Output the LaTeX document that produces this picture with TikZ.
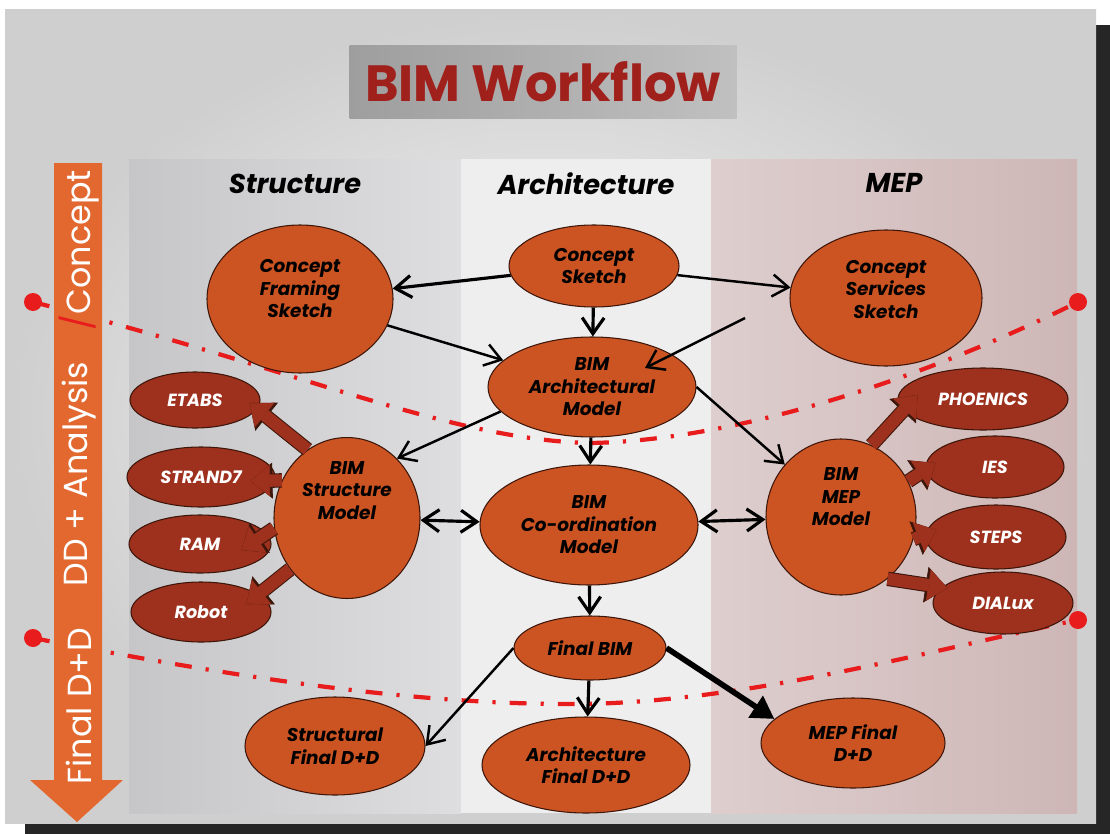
\documentclass[tikz,border=0pt]{standalone}
\usepackage{fontspec}
\setmainfont{Poppins}
\usetikzlibrary{arrows.meta,calc,positioning,shapes.geometric}

\definecolor{stagefill}{RGB}{204,84,34}
\definecolor{toolfill}{RGB}{158,48,30}
\definecolor{rim}{RGB}{60,22,10}
\definecolor{phasered}{RGB}{232,28,28}
\definecolor{bandorange}{RGB}{226,104,48}
\definecolor{titlered}{RGB}{160,32,28}
\definecolor{titlegrayL}{RGB}{158,158,158}
\definecolor{titlegrayR}{RGB}{192,192,192}
\definecolor{structL}{RGB}{198,198,200}
\definecolor{structR}{RGB}{222,222,224}
\definecolor{archcol}{RGB}{238,238,238}
\definecolor{mepL}{RGB}{222,206,206}
\definecolor{mepR}{RGB}{206,182,182}

\tikzset{
  stage/.style={ellipse, draw=rim, line width=0.6pt, fill=stagefill, inner sep=0pt, align=center,
    font=\fontsize{10.5}{12.8}\selectfont\bfseries\itshape},
  tool/.style={ellipse, draw=rim, line width=0.6pt, fill=toolfill, inner sep=0pt, text=white,
    font=\fontsize{10}{12}\selectfont\bfseries\itshape},
  flow/.style={line width=1.4pt, -{Straight Barb[length=3.2mm,width=4.4mm]}},
  twoway/.style={line width=1.8pt, {Straight Barb[length=3.2mm,width=4.4mm]}-{Straight Barb[length=3.2mm,width=4.4mm]}},
  fatarrow/.style={draw=toolfill, line width=7pt, -{Triangle[length=11pt,width=18pt,line width=0.4pt]},
    preaction={draw=rim, line width=8.2pt, -{Triangle[length=12.5pt,width=20.5pt,line width=0.4pt]}}},
  column/.style={font=\fontsize{15.5}{18}\selectfont\bfseries\itshape},
  phaseline/.style={draw=phasered, line width=2.4pt, dash pattern=on 9.6pt off 8pt on 1.8pt off 8pt},
  phasedot/.style={circle, fill=phasered, inner sep=0pt, minimum size=3.6mm},
  phasename/.style={rotate=90, text=white, font=\fontsize{19}{22}\selectfont}
}

\begin{document}
\begin{tikzpicture}[x=0.2mm,y=-0.2mm]
\useasboundingbox (0,0) rectangle (1110,834);
% slide with its shadow
\fill[black!85] (25,25) rectangle (1110,834);
\shade[inner color=gray!6, outer color=gray!38] (5,10) rectangle (1096,823);
% three columns
\shade[left color=structL, right color=structR] (129,159) rectangle (461,813);
\fill[archcol] (461,159) rectangle (711,813);
\shade[left color=mepL, right color=mepR] (711,159) rectangle (1077,813);

\node[minimum width=77.4mm, minimum height=14.6mm, left color=titlegrayL, right color=titlegrayR,
  text=titlered, font=\fontsize{29}{34}\selectfont\bfseries] (title) at (543,82) {BIM Workflow};

\node[column] (structhead) at (295,184) {Structure};
\node[column] (archhead) at (586,184) {Architecture};
\node[column] (mephead) at (894,183) {MEP};

% phase limits
\node[phasedot] (dotul) at (33,302) {};
\node[phasedot] (dotll) at (33,638) {};
\node[phasedot] (dotur) at (1078,302) {};
\node[phasedot] (dotlr) at (1078,620) {};
\draw[phaseline] (dotul.center) .. controls (300,370) and (450,440) .. (590,443)
  .. controls (720,441) and (900,390) .. (dotur.center);
\draw[phaseline] (dotll.center) .. controls (250,680) and (420,705) .. (580,704)
  .. controls (750,702) and (930,650) .. (dotlr.center);

% time arrow
\fill[bandorange] (54,163) -- (102,163) -- (102,780) -- (123,780) -- (77,822) -- (30,780) -- (54,780) -- cycle;
\node[phasename] (conceptphase) at (79,250) {\textcolor{phasered}{/}Concept};
\node[phasename] (ddphase) at (79,474) {DD + Analysis};
\node[phasename] (finalphase) at (79,706) {Final D+D};

% stages
\node[stage, minimum width=34mm, minimum height=16.4mm] (concept) at (594,266) {Concept\\Sketch};
\node[stage, minimum width=37.2mm, minimum height=29.6mm] (framing) at (300,299) {Concept\\Framing\\Sketch\\[-1pt]\mbox{}};
\node[stage, minimum width=38.4mm, minimum height=27.2mm] (services) at (886,298) {Concept\\Services\\Sketch\\[-3pt]\mbox{}};
\node[stage, minimum width=41.6mm, minimum height=20mm] (archmodel) at (592,387) {BIM\\Architectural\\Model};
\node[stage, minimum width=29.2mm, minimum height=31.2mm] (structmodel) at (347,518) {BIM\\Structure\\Model\\[19pt]\mbox{}};
\node[stage, minimum width=43.6mm, minimum height=24mm] (coordmodel) at (589,525) {BIM\\Co-ordination\\Model};
\node[stage, minimum width=30mm, minimum height=31.2mm] (mepmodel) at (841,517) {BIM\\MEP\\Model\\[10pt]\mbox{}};
\node[stage, minimum width=30.4mm, minimum height=12.8mm] (finalbim) at (590,648) {Final BIM};
\node[stage, minimum width=36mm, minimum height=19.6mm] (structfinal) at (335,746) {Structural\\Final D+D};
\node[stage, minimum width=41.6mm, minimum height=19.2mm] (archfinal) at (586,765) {Architecture\\Final D+D};
\node[stage, minimum width=36.8mm, minimum height=18mm] (mepfinal) at (853,743) {MEP Final\\D+D};

% analysis tools
\node[tool, minimum width=26mm, minimum height=11.2mm] (etabs) at (195,400) {ETABS};
\node[tool, minimum width=29.6mm, minimum height=12mm] (strand) at (201,477) {STRAND7};
\node[tool, minimum width=28.4mm, minimum height=11.6mm] (ram) at (200,544) {RAM};
\node[tool, minimum width=28mm, minimum height=12mm] (robot) at (201,612) {Robot};
\node[tool, minimum width=34mm, minimum height=12.4mm] (phoenics) at (983,399) {PHOENICS};
\node[tool, minimum width=27.6mm, minimum height=12.4mm] (ies) at (995,467) {IES};
\node[tool, minimum width=28mm, minimum height=12.8mm] (steps) at (996,537) {STEPS};
\node[tool, minimum width=28mm, minimum height=12.4mm] (dialux) at (1003,603) {DIALux};

\coordinate (loose) at (745,318);

% workflow
\draw[flow, line width=1.8pt] (concept) -- (framing);
\draw[flow] (concept) -- (services);
\draw[flow, line width=1.8pt] (concept) -- (archmodel);
\draw[flow] (framing) -- (archmodel);
\draw[flow] (loose) -- ($(archmodel)+(53,-19)$);
\draw[flow] (archmodel.195) -- (structmodel.50);
\draw[flow] (archmodel.east) -- (mepmodel.137);
\draw[flow, line width=1.8pt] (archmodel) -- (coordmodel);
\draw[twoway] (structmodel) -- (coordmodel);
\draw[twoway] (coordmodel) -- (mepmodel);
\draw[flow, line width=1.8pt] (coordmodel) -- (finalbim);
\draw[flow] (finalbim.west) -- (structfinal.east);
\draw[flow, line width=1.8pt] (finalbim) -- (archfinal);
\draw[line width=3.2pt, -{Triangle[length=4.5mm,width=5mm]}] (finalbim.east) -- (mepfinal.163);

% tool links
\draw[fatarrow] (structmodel.120) -- ($(etabs.east)+(-11,3)$);
\draw[fatarrow] (structmodel.150) -- ($(strand.east)+(-25,4)$);
\draw[fatarrow] (structmodel.188) -- ($(ram.east)+(-30,6)$);
\draw[fatarrow] (structmodel.222) -- ($(robot.east)+(-25,-8)$);
\draw[fatarrow] (mepmodel.67) -- ($(phoenics.west)+(20,-4)$);
\draw[fatarrow] (mepmodel.28) -- ($(ies.west)+(10,-4)$);
\draw[fatarrow] (mepmodel.-17) -- ($(steps.west)+(11,-7)$);
\draw[fatarrow] (mepmodel.-53) -- ($(dialux.west)+(15,-15)$);
\end{tikzpicture}
\end{document}
